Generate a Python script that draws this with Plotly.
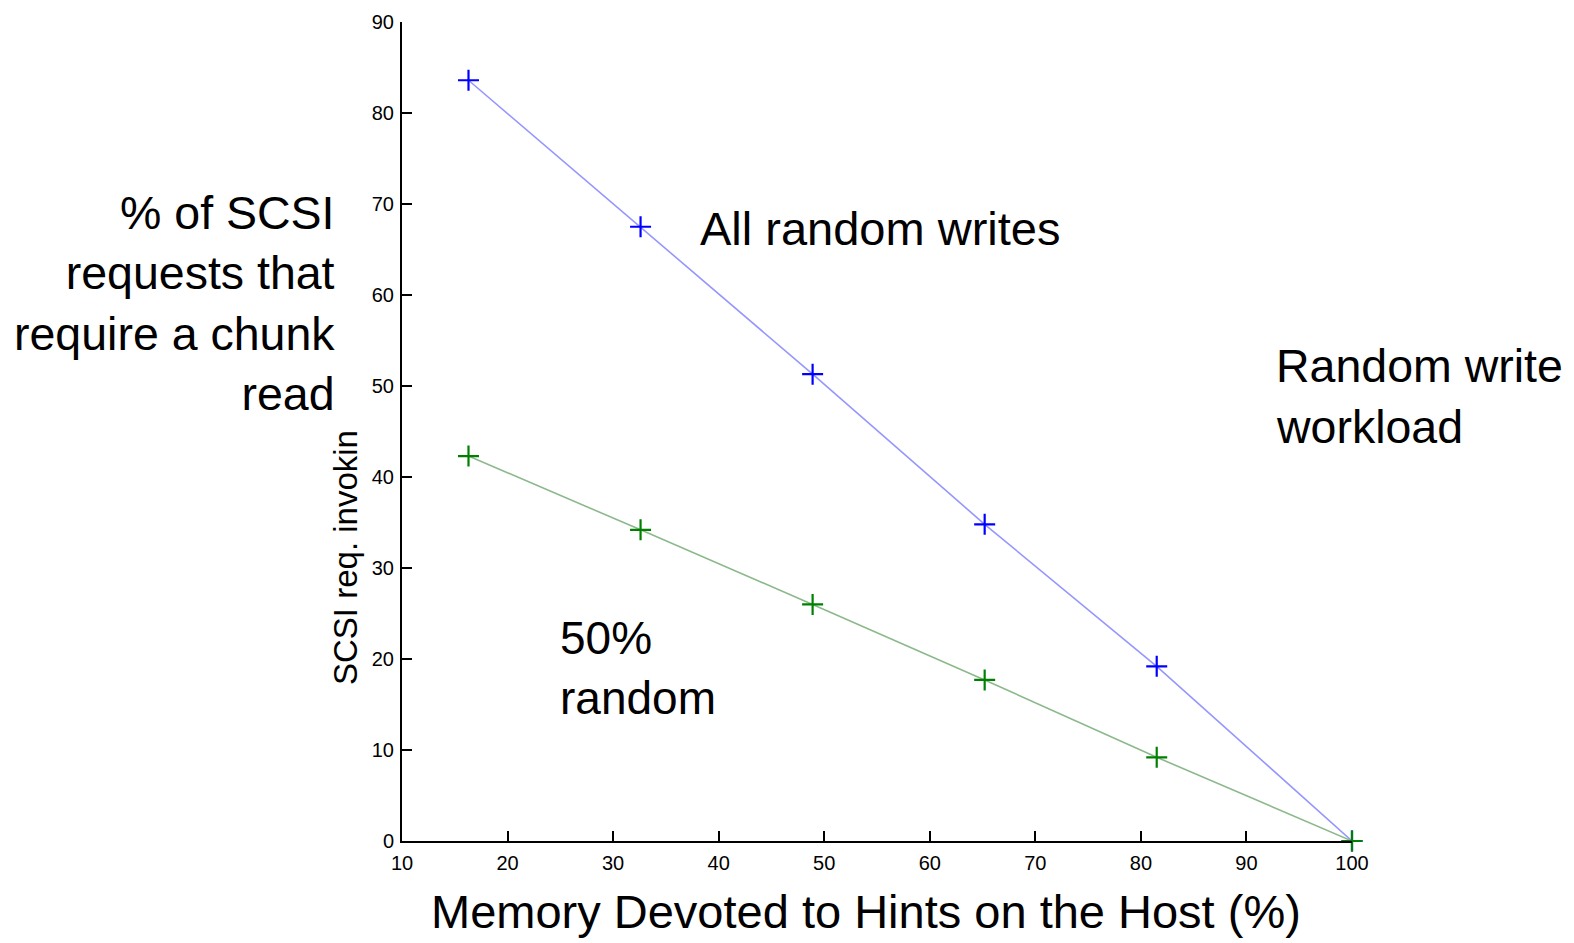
import plotly.graph_objects as go

# Memory devoted to hints on the host (%)
memory_pct = [16.3, 32.6, 48.9, 65.2, 81.5, 100]

# % of SCSI requests that require a chunk read
all_random_writes = [83.6, 67.5, 51.3, 34.8, 19.2, 0]
half_random = [42.3, 34.2, 26.0, 17.7, 9.2, 0]

x_ticks = [10, 20, 30, 40, 50, 60, 70, 80, 90, 100]
y_ticks = [0, 10, 20, 30, 40, 50, 60, 70, 80, 90]

W, H = 1574, 943
L, R, T, B = 402, 222, 22, 102
PW, PH = W - L - R, H - T - B
FONT = "Liberation Sans"


def px(x):
    return (x - L) / PW


def py(y):
    return (H - B - y) / PH


fig = go.Figure()

fig.add_trace(go.Scatter(
    x=memory_pct, y=all_random_writes, mode="lines+markers",
    line=dict(color="rgb(150,150,255)", width=1.6),
    marker=dict(symbol="cross-thin", size=15,
                line=dict(color="rgb(0,0,255)", width=2.2)),
    cliponaxis=False, showlegend=False,
))
fig.add_trace(go.Scatter(
    x=memory_pct, y=half_random, mode="lines+markers",
    line=dict(color="rgb(140,185,140)", width=1.6),
    marker=dict(symbol="cross-thin", size=15,
                line=dict(color="rgb(0,128,0)", width=2.2)),
    cliponaxis=False, showlegend=False,
))

annotations = []


def text_at(text, x, y, size, xanchor="left", align="left", yanchor="middle", angle=0):
    annotations.append(dict(
        text=text, x=px(x), y=py(y), xref="paper", yref="paper",
        xanchor=xanchor, yanchor=yanchor, align=align, showarrow=False,
        textangle=angle, font=dict(family=FONT, size=size, color="black"),
    ))


# side label of the y axis
text_at("% of SCSI<br>requests that<br>require a chunk<br>read", 337, 303, 46.5,
        xanchor="right", align="right")
# truncated axis caption
text_at("SCSI req. invokin", 345, 558, 33, xanchor="center", angle=-90)

# series labels
text_at("All random writes", 698, 228, 47)
text_at("Random write", 1274, 366, 46.5)
text_at("workload", 1274, 427, 46.5)
text_at("50%<br>random", 558, 668, 46)

# x axis caption
text_at("Memory Devoted to Hints on the Host (%)", 866, 912, 47, xanchor="center")

fig.update_layout(
    width=W, height=H,
    margin=dict(l=L, r=R, t=T, b=B),
    paper_bgcolor="white", plot_bgcolor="white",
    annotations=annotations,
    xaxis=dict(
        range=[10, 100], tickvals=x_ticks, ticktext=[str(v) for v in x_ticks],
        showline=True, linecolor="black", linewidth=2,
        ticks="inside", ticklen=10, tickwidth=1.6, tickcolor="black",
        showgrid=False, zeroline=False, ticklabelstandoff=3,
        tickfont=dict(family=FONT, size=20, color="black"),
    ),
    yaxis=dict(
        range=[0, 90], tickvals=y_ticks, ticktext=[str(v) for v in y_ticks],
        showline=True, linecolor="black", linewidth=2,
        ticks="inside", ticklen=10, tickwidth=1.6, tickcolor="black",
        showgrid=False, zeroline=False, ticklabelstandoff=2,
        tickfont=dict(family=FONT, size=20, color="black"),
    ),
)

fig.write_html("out.html")
